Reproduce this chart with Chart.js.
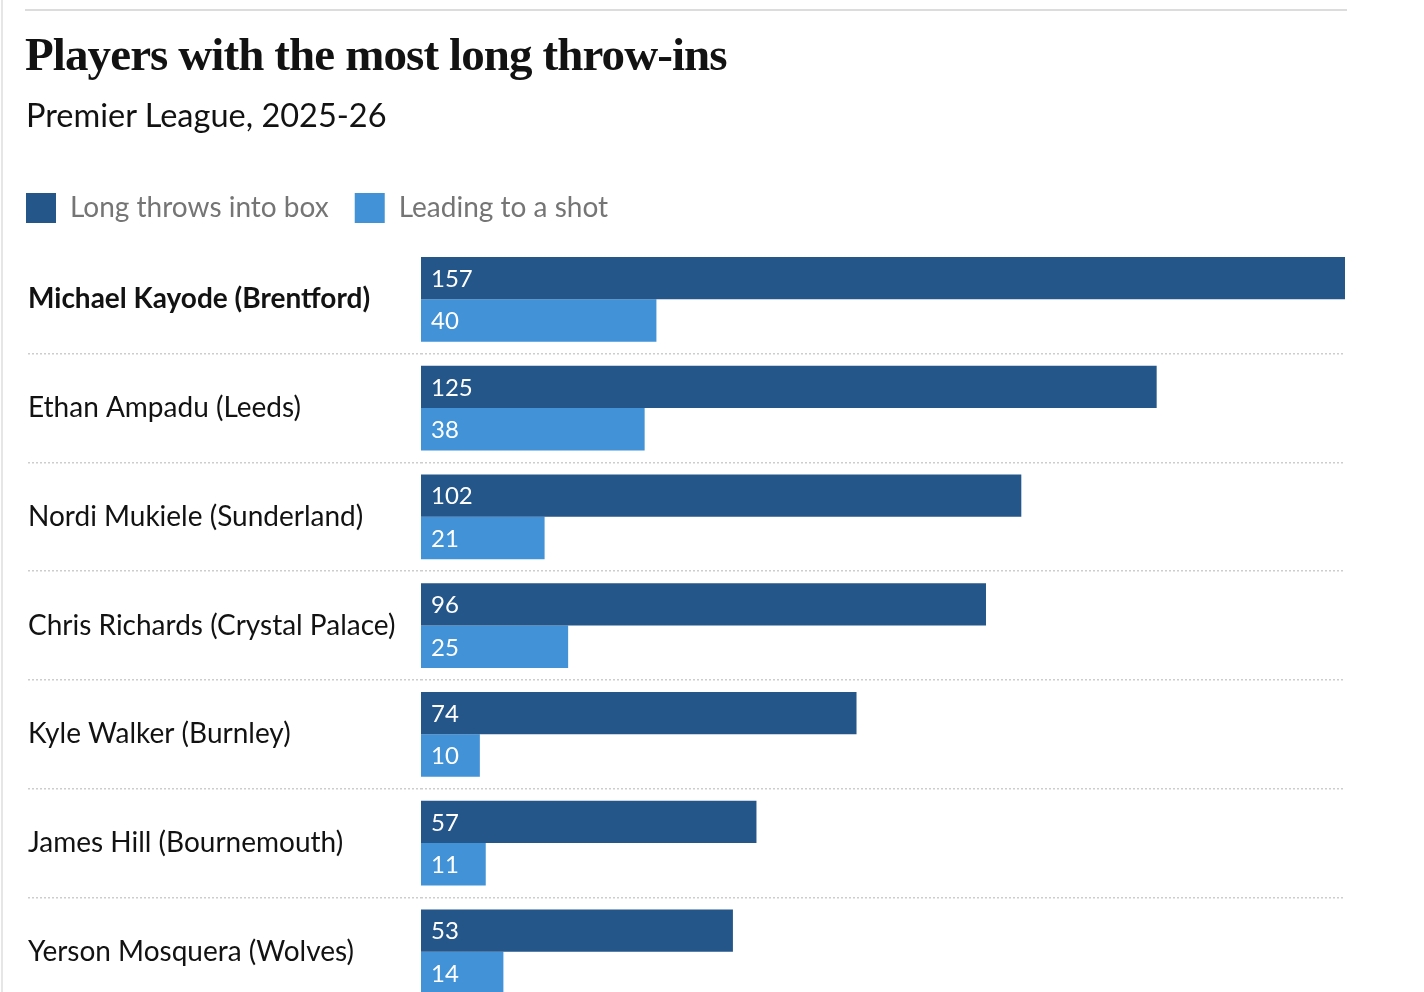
<!DOCTYPE html>
<html>
<head>
<meta charset="utf-8">
<script src="https://cdn.jsdelivr.net/npm/chart.js@4.4.1/dist/chart.umd.min.js"></script>
<style>
  html, body { margin: 0; padding: 0; background: #fff; width: 1424px; height: 992px; overflow: hidden; }
  #chart { position: absolute; left: 0; top: 0; }
  #vline { position: absolute; left: 1px; top: 0; width: 2px; height: 992px; background: #e6e6e6; }
  #rule { position: absolute; left: 25px; top: 9px; width: 1322px; height: 2px; background: #dcdcdc; }
  #title { position: absolute; left: 25px; top: 31px; margin: 0; font: bold 47px/1 "Liberation Serif", serif; letter-spacing: -0.9px; color: #121212; white-space: nowrap; }
  #subtitle { position: absolute; left: 26px; top: 99px; margin: 0; font: 32.5px/1 Lato, sans-serif; color: #121212; white-space: nowrap; }
</style>
</head>
<body>
<canvas id="chart" width="1424" height="1026"></canvas>
<div id="vline"></div>
<div id="rule"></div>
<h1 id="title">Players with the most long throw-ins</h1>
<p id="subtitle">Premier League, 2025-26</p>
<script>
const players = [
  "Michael Kayode (Brentford)",
  "Ethan Ampadu (Leeds)",
  "Nordi Mukiele (Sunderland)",
  "Chris Richards (Crystal Palace)",
  "Kyle Walker (Burnley)",
  "James Hill (Bournemouth)",
  "Yerson Mosquera (Wolves)"
];
const longThrowsIntoBox = [157, 125, 102, 96, 74, 57, 53];
const leadingToShot = [40, 38, 21, 25, 10, 11, 14];
const seriesNames = ["Long throws into box", "Leading to a shot"];

const DARK = "#24568a";
const LIGHT = "#4192d6";

const valueLabels = {
  id: "valueLabels",
  afterDatasetsDraw(chart) {
    const ctx = chart.ctx;
    ctx.save();
    ctx.font = "24px Lato, sans-serif";
    ctx.fillStyle = "#ffffff";
    ctx.textAlign = "left";
    ctx.textBaseline = "middle";
    chart.data.datasets.forEach((ds, di) => {
      const meta = chart.getDatasetMeta(di);
      meta.data.forEach((el, i) => {
        ctx.fillText(String(ds.data[i]), el.base + 10, el.y + 1);
      });
    });
    ctx.restore();
  }
};

new Chart(document.getElementById("chart"), {
  type: "bar",
  data: {
    labels: players,
    datasets: [
      { label: seriesNames[0], data: longThrowsIntoBox, backgroundColor: DARK, borderWidth: 0, xAxisID: "x", yAxisID: "y" },
      { label: seriesNames[1], data: leadingToShot, backgroundColor: LIGHT, borderWidth: 0, xAxisID: "x", yAxisID: "y" }
    ]
  },
  options: {
    indexAxis: "y",
    responsive: false,
    maintainAspectRatio: false,
    animation: false,
    events: [],
    layout: { padding: { left: 0, right: 79, top: 167, bottom: 0 } },
    datasets: { bar: { categoryPercentage: 0.78, barPercentage: 1 } },
    plugins: {
      tooltip: { enabled: false },
      title: { display: false },
      legend: {
        display: true,
        position: "top",
        align: "start",
        labels: {
          boxWidth: 30,
          boxHeight: 30,
          padding: 26,
          color: "#757575",
          font: { family: "Lato, sans-serif", size: 28 }
        }
      }
    },
    scales: {
      x: {
        type: "linear",
        position: "top",
        min: 0,
        max: 157,
        display: true,
        ticks: { display: false },
        grid: { display: false },
        border: { display: false },
        afterFit(s) { s.height = 12; }
      },
      y: {
        type: "category",
        position: "left",
        weight: 0,
        ticks: {
          crossAlign: "far",
          color: "#121212",
          font: (c) => ({ family: "Lato, sans-serif", size: 28, weight: c.index === 0 ? "bold" : "normal" })
        },
        grid: {
          offset: true,
          drawOnChartArea: true,
          drawTicks: true,
          tickLength: 393,
          lineWidth: 1.5,
          tickWidth: 1.5,
          color: (c) => (c.index === 0 ? "rgba(0,0,0,0)" : "#cdcdcd"),
          tickColor: (c) => (c.index === 0 ? "rgba(0,0,0,0)" : "#cdcdcd"),
          tickBorderDash: [2, 2]
        },
        border: { display: false, dash: [2, 2] },
        afterFit(s) { s.width = 393; }
      },
      pad: {
        type: "linear",
        position: "left",
        weight: 10,
        display: true,
        ticks: { display: false },
        grid: { display: false },
        border: { display: false },
        afterFit(s) { s.width = 28; }
      }
    }
  },
  plugins: [valueLabels]
});
</script>
</body>
</html>
